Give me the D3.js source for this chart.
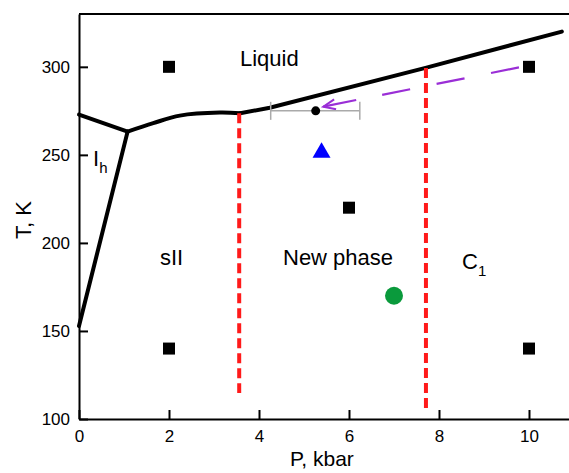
<!DOCTYPE html>
<html>
<head>
<meta charset="utf-8">
<script src="https://cdn.jsdelivr.net/npm/d3@7"></script>
<style>
  body { margin: 0; background: #fff; }
  svg { font-family: "Liberation Sans", Arial, sans-serif; }
</style>
</head>
<body>
<svg id="chart" width="569" height="473"></svg>
<script>
// Phase diagram values (P in kbar, T in K).
var xTicks = [0, 2, 4, 6, 8, 10];
var yTicks = [100, 150, 200, 250, 300];

// Solid phase boundaries.
var ihLiquid = [[0, 272.9], [1.08, 263.2]];
var ihSII = [[1.08, 263.2], [0, 152.8]];
var sIILiquid = [[1.08, 263.2], [1.65, 268], [2.24, 272.3], [3.13, 274], [3.58, 273.6]];
var newLiquid = [[3.58, 273.6], [4.24, 276.8], [7.7, 299.4], [10.73, 320]];

// Red dashed boundaries of the new phase.
var redLines = [
  [[3.56, 273.6], [3.56, 114.8]],
  [[7.71, 299.4], [7.71, 106]]
];

// Experimental points.
var squareP = [2, 2, 10, 10, 6];
var squareT = [300, 140, 300, 140, 220];
var dotPoint = [5.26, 275];
var dotErr = [4.26, 6.24];
var trianglePoint = [5.39, 251.3];
var greenPoint = [7.0, 170];

// Purple arrow, from its tip back to the square at 10 kbar.
var arrowLine = [[5.43, 277.4], [9.8, 299.8]];

var svg = d3.select('#chart');
var x = d3.scaleLinear().domain([0, 10.889]).range([79, 569]);
var y = d3.scaleLinear().domain([100, 330]).range([419, 14]);

var line = d3.line()
  .x(function(d) { return x(d[0]); })
  .y(function(d) { return y(d[1]); });

// Arrow marker.
svg.append('defs').append('marker')
    .attr('id', 'arrow')
    .attr('markerUnits', 'userSpaceOnUse')
    .attr('viewBox', '-2 -7 16 14')
    .attr('markerWidth', 16)
    .attr('markerHeight', 14)
    .attr('refX', 0)
    .attr('refY', 0)
    .attr('orient', 'auto')
  .append('path')
    .attr('d', 'M12,-5L0,0L12,5')
    .attr('fill', 'none')
    .attr('stroke', '#9a2ed6')
    .attr('stroke-width', 2);

// Axes, ticks point inwards.
var gx = svg.append('g')
  .attr('transform', 'translate(0,' + y(100) + ')')
  .call(d3.axisBottom(x).tickValues(xTicks).tickSizeInner(-9).tickSizeOuter(0).tickPadding(11));
var gy = svg.append('g')
  .attr('transform', 'translate(' + x(0) + ',0)')
  .call(d3.axisLeft(y).tickValues(yTicks).tickSizeInner(-9).tickSizeOuter(0).tickPadding(9));
[gx, gy].forEach(function(g) {
  g.selectAll('path, line').attr('stroke', '#000').attr('stroke-width', 2);
  g.selectAll('text').attr('font-size', 17).attr('fill', '#000')
    .style('font-family', '"Liberation Sans", Arial, sans-serif');
});

// Top frame line.
svg.append('line')
  .attr('x1', x(0)).attr('x2', x.range()[1])
  .attr('y1', y(330)).attr('y2', y(330))
  .attr('stroke', '#000').attr('stroke-width', 2);

// Black phase boundaries.
[ihLiquid, ihSII, newLiquid].forEach(function(pts) {
  svg.append('path')
    .attr('d', line(pts))
    .attr('fill', 'none').attr('stroke', '#000')
    .attr('stroke-width', 4).attr('stroke-linecap', 'round');
});
svg.append('path')
  .attr('d', line.curve(d3.curveCatmullRom)(sIILiquid))
  .attr('fill', 'none').attr('stroke', '#000')
  .attr('stroke-width', 4).attr('stroke-linecap', 'round');
line.curve(d3.curveLinear);

// Red dashed lines.
redLines.forEach(function(pts) {
  svg.append('path')
    .attr('d', line(pts))
    .attr('fill', 'none').attr('stroke', '#ff1a1a')
    .attr('stroke-width', 4).attr('stroke-dasharray', '10,5');
});

// Purple dashed arrow.
svg.append('path')
  .attr('d', line(arrowLine))
  .attr('fill', 'none').attr('stroke', '#9a2ed6')
  .attr('stroke-width', 2.2)
  .attr('stroke-dasharray', '33.5,26.5,28.5,27,28.5,27,28.5,30')
  .attr('marker-start', 'url(#arrow)');

// Squares.
svg.selectAll('.sq')
  .data(squareP.map(function(p, i) { return [p, squareT[i]]; }))
  .enter().append('path')
    .attr('class', 'sq')
    .attr('d', d3.symbol(d3.symbolSquare, 144))
    .attr('transform', function(d) { return 'translate(' + x(d[0]) + ',' + y(d[1]) + ')'; })
    .attr('fill', '#000');

// Error bar with black dot.
var ey = y(dotPoint[1]);
svg.append('line')
  .attr('x1', x(dotErr[0])).attr('x2', x(dotErr[1]))
  .attr('y1', ey).attr('y2', ey)
  .attr('stroke', '#aaa').attr('stroke-width', 1.5);
dotErr.forEach(function(p) {
  svg.append('line')
    .attr('x1', x(p)).attr('x2', x(p))
    .attr('y1', ey - 9).attr('y2', ey + 9)
    .attr('stroke', '#aaa').attr('stroke-width', 1.5);
});
svg.append('circle')
  .attr('cx', x(dotPoint[0])).attr('cy', ey).attr('r', 4.5)
  .attr('fill', '#000');

// Blue triangle.
svg.append('path')
  .attr('d', d3.symbol(d3.symbolTriangle, 140))
  .attr('transform', 'translate(' + x(trianglePoint[0]) + ',' + y(trianglePoint[1]) + ')')
  .attr('fill', '#0000ff');

// Green circle.
svg.append('circle')
  .attr('cx', x(greenPoint[0])).attr('cy', y(greenPoint[1])).attr('r', 9)
  .attr('fill', '#0a9a3c');

// Region labels.
function label(px, py, txt, sub) {
  var t = svg.append('text')
    .attr('x', px).attr('y', py)
    .attr('font-size', 22).attr('fill', '#000')
    .text(txt);
  if (sub) {
    t.append('tspan').attr('font-size', 15).attr('dy', 7).text(sub);
  }
}
label(240, 66, 'Liquid');
label(93, 166, 'I', 'h');
label(160, 265, 'sII');
label(283, 265, 'New phase');
label(462, 269, 'C', '1');

// Axis titles.
svg.append('text')
  .attr('x', 290).attr('y', 466)
  .attr('font-size', 21).attr('fill', '#000')
  .text('P, kbar');
svg.append('text')
  .attr('transform', 'translate(31,239) rotate(-90)')
  .attr('font-size', 22).attr('fill', '#000')
  .text('T, K');
</script>
</body>
</html>
